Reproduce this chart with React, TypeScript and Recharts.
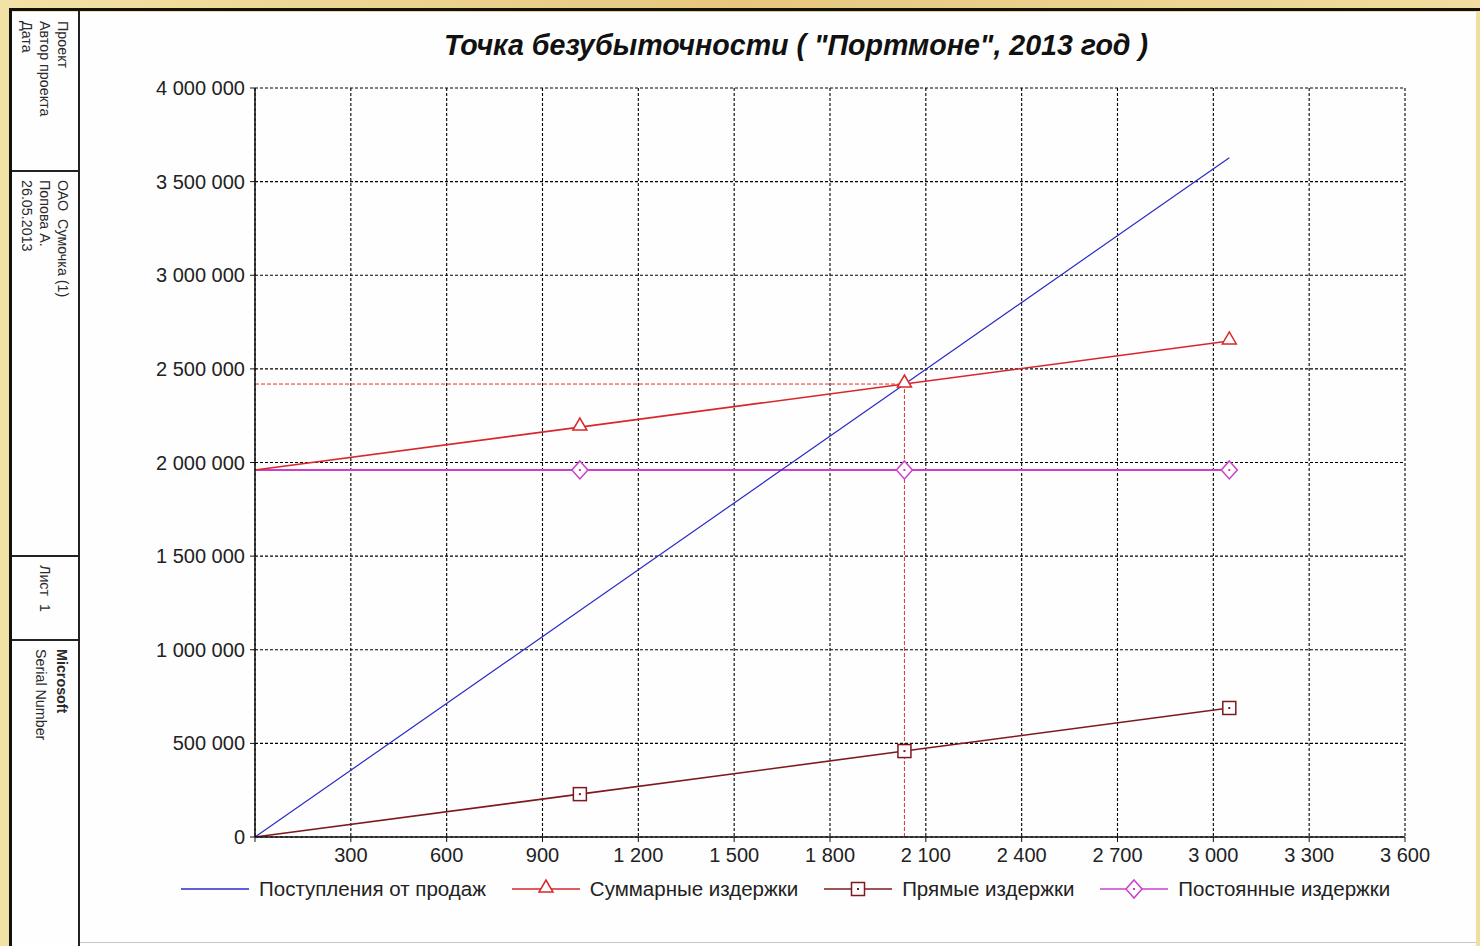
import React from "react";
import { LineChart, Line, XAxis, YAxis, CartesianGrid, ReferenceLine, Legend } from "recharts";

// units sold (x) and money (y)
const units = [0, 1017, 2033, 3050];
const revenue = [0, 1209000, 2418000, 3628000];
const totalCosts = [1960000, 2189000, 2419000, 2649000];
const directCosts = [0, 229000, 459000, 689000];
const fixedCosts = [1960000, 1960000, 1960000, 1960000];

const breakEvenUnits = 2033;
const breakEvenValue = 2419000;

const xTicks = [0, 300, 600, 900, 1200, 1500, 1800, 2100, 2400, 2700, 3000, 3300, 3600];
const yTicks = [0, 500000, 1000000, 1500000, 2000000, 2500000, 3000000, 3500000, 4000000];

const title = 'Точка безубыточности ( "Портмоне", 2013 год )';

const legendItems = [
  { key: "revenue", name: "Поступления от продаж", color: "#2b2bc8", marker: "none" },
  { key: "total", name: "Суммарные издержки", color: "#d9262a", marker: "triangle" },
  { key: "direct", name: "Прямые издержки", color: "#7e1a1e", marker: "square" },
  { key: "fixed", name: "Постоянные издержки", color: "#cc3fcc", marker: "diamond" },
];

const sideCells = [
  { top: 12, height: 159, lines: ["Проект", "Автор проекта", "Дата"], bold: false, lh: 18 },
  { top: 171, height: 385, lines: ["ОАО  Сумочка (1)", "Попова А.", "26.05.2013"], bold: false, lh: 18 },
  { top: 556, height: 84, lines: ["", "Лист  1"], bold: false, lh: 18 },
  { top: 640, height: 306, lines: ["Microsoft", "Serial Number"], bold: true, lh: 21 },
];

const rows = units.map((u, i) => ({
  units: u,
  revenue: revenue[i],
  total: totalCosts[i],
  direct: directCosts[i],
  fixed: fixedCosts[i],
}));

const fmt = (v: number) => String(v).replace(/\B(?=(\d{3})+(?!\d))/g, " ");
const FONT = "'Liberation Sans', Arial, sans-serif";

function Marker({ kind, cx, cy, color }: { kind: string; cx: number; cy: number; color: string }) {
  if (kind === "triangle")
    return <path d={`M${cx - 7},${cy + 3}L${cx + 7},${cy + 3}L${cx},${cy - 9}Z`} fill="#fff" stroke={color} strokeWidth={1.5} />;
  if (kind === "square")
    return (
      <g>
        <rect x={cx - 6.5} y={cy - 6.5} width={13} height={13} fill="#fff" stroke={color} strokeWidth={1.5} />
        <rect x={cx - 1} y={cy - 1} width={2} height={2} fill={color} />
      </g>
    );
  if (kind === "diamond")
    return (
      <g>
        <path d={`M${cx},${cy - 9}L${cx + 8},${cy}L${cx},${cy + 9}L${cx - 8},${cy}Z`} fill="#fff" stroke={color} strokeWidth={1.5} />
        <rect x={cx - 1} y={cy - 1} width={2} height={2} fill={color} />
      </g>
    );
  return null;
}

const dotFor = (kind: string, color: string) => (props: any) => {
  const { cx, cy, index } = props;
  if (index === 0 || cx == null || cy == null) return <g key={`d${index}`} />;
  return (
    <g key={`d${index}`}>
      <Marker kind={kind} cx={cx} cy={cy} color={color} />
    </g>
  );
};

function LegendContent() {
  return (
    <div style={{ display: "flex", alignItems: "center", fontFamily: FONT, fontSize: 20.5, color: "#222" }}>
      {legendItems.map((it) => (
        <div key={it.key} style={{ display: "flex", alignItems: "center", marginRight: 26 }}>
          <svg width={68} height={22}>
            <line x1={0} y1={11} x2={68} y2={11} stroke={it.color} strokeWidth={1.5} />
            <Marker kind={it.marker} cx={34} cy={11} color={it.color} />
          </svg>
          <span style={{ marginLeft: 10, whiteSpace: "nowrap" }}>{it.name}</span>
        </div>
      ))}
    </div>
  );
}

export default function App() {
  return (
    <div
      style={{
        position: "absolute",
        left: 0,
        top: 0,
        width: 1480,
        height: 946,
        overflow: "hidden",
        background: "linear-gradient(90deg, #f3e2a6 0%, #e6c77e 50%, #f1dea0 100%)",
      }}
    >
      {/* white sheet with black frame */}
      <div style={{ position: "absolute", left: 12, top: 12, width: 1464, height: 934, background: "#fefefe" }} />
      <div style={{ position: "absolute", left: 9, top: 8, width: 1471, height: 3, background: "#111" }} />
      <div style={{ position: "absolute", left: 9, top: 8, width: 3, height: 938, background: "#111" }} />
      <div style={{ position: "absolute", left: 78, top: 11, width: 2, height: 935, background: "#222" }} />
      <div style={{ position: "absolute", left: 80, top: 942, width: 1396, height: 1, background: "#c8c8c8" }} />

      {sideCells.map((c, i) => (
        <React.Fragment key={i}>
          {i > 0 && <div style={{ position: "absolute", left: 12, top: c.top - 1, width: 67, height: 2, background: "#222" }} />}
          <div
            style={{
              position: "absolute",
              left: 12,
              top: c.top + 9,
              width: 67 - 7,
              height: c.height - 12,
              writingMode: "vertical-rl",
              fontFamily: FONT,
              fontSize: 14.3,
              lineHeight: `${c.lh}px`,
              color: "#2a2a2a",
              whiteSpace: "pre",
            }}
          >
            {c.lines.map((l, j) => (
              <div key={j} style={{ fontWeight: c.bold && j === 0 ? 700 : 400 }}>
                {l || "\u00a0"}
              </div>
            ))}
          </div>
        </React.Fragment>
      ))}

      <div
        style={{
          position: "absolute",
          left: 250,
          width: 1092,
          top: 29,
          textAlign: "center",
          fontFamily: FONT,
          fontSize: 28.6,
          fontWeight: 700,
          fontStyle: "italic",
          color: "#111",
        }}
      >
        {title}
      </div>

      <LineChart
        width={1480}
        height={946}
        data={rows}
        margin={{ top: 88, right: 75, bottom: 69, left: 0 }}
        style={{ position: "absolute", left: 0, top: 0 }}
      >
        <CartesianGrid stroke="#000" strokeDasharray="3 2" strokeWidth={1.1} />
        <XAxis
          dataKey="units"
          type="number"
          domain={[0, 3600]}
          ticks={xTicks}
          height={40}
          tickSize={5}
          tickMargin={6}
          tickFormatter={(v) => (v === 0 ? "" : fmt(v))}
          tick={{ fontSize: 20, fill: "#222", fontFamily: FONT }}
          axisLine={{ stroke: "#111", strokeWidth: 1.5 }}
          tickLine={{ stroke: "#111" }}
        />
        <YAxis
          type="number"
          domain={[0, 4000000]}
          ticks={yTicks}
          width={255}
          tickSize={5}
          tickMargin={5}
          tickFormatter={fmt}
          tick={{ fontSize: 20, fill: "#222", fontFamily: FONT }}
          axisLine={{ stroke: "#111", strokeWidth: 1.5 }}
          tickLine={{ stroke: "#111" }}
        />
        <ReferenceLine
          segment={[
            { x: 0, y: breakEvenValue },
            { x: breakEvenUnits, y: breakEvenValue },
          ]}
          stroke="#e03030"
          strokeDasharray="4 2"
        />
        <ReferenceLine
          segment={[
            { x: breakEvenUnits, y: 0 },
            { x: breakEvenUnits, y: breakEvenValue },
          ]}
          stroke="#e03030"
          strokeDasharray="4 2"
        />
        <Line dataKey="fixed" stroke="#cc3fcc" strokeWidth={1.8} dot={dotFor("diamond", "#cc3fcc")} isAnimationActive={false} />
        <Line dataKey="direct" stroke="#7e1a1e" strokeWidth={1.6} dot={dotFor("square", "#7e1a1e")} isAnimationActive={false} />
        <Line dataKey="total" stroke="#d9262a" strokeWidth={1.6} dot={dotFor("triangle", "#d9262a")} isAnimationActive={false} />
        <Line dataKey="revenue" stroke="#2b2bc8" strokeWidth={1.2} dot={false} isAnimationActive={false} />
        <Legend
          verticalAlign="middle"
          align="center"
          layout="horizontal"
          content={() => <LegendContent />}
          wrapperStyle={{ left: 181, top: 877, width: 1280 }}
        />
      </LineChart>
    </div>
  );
}
